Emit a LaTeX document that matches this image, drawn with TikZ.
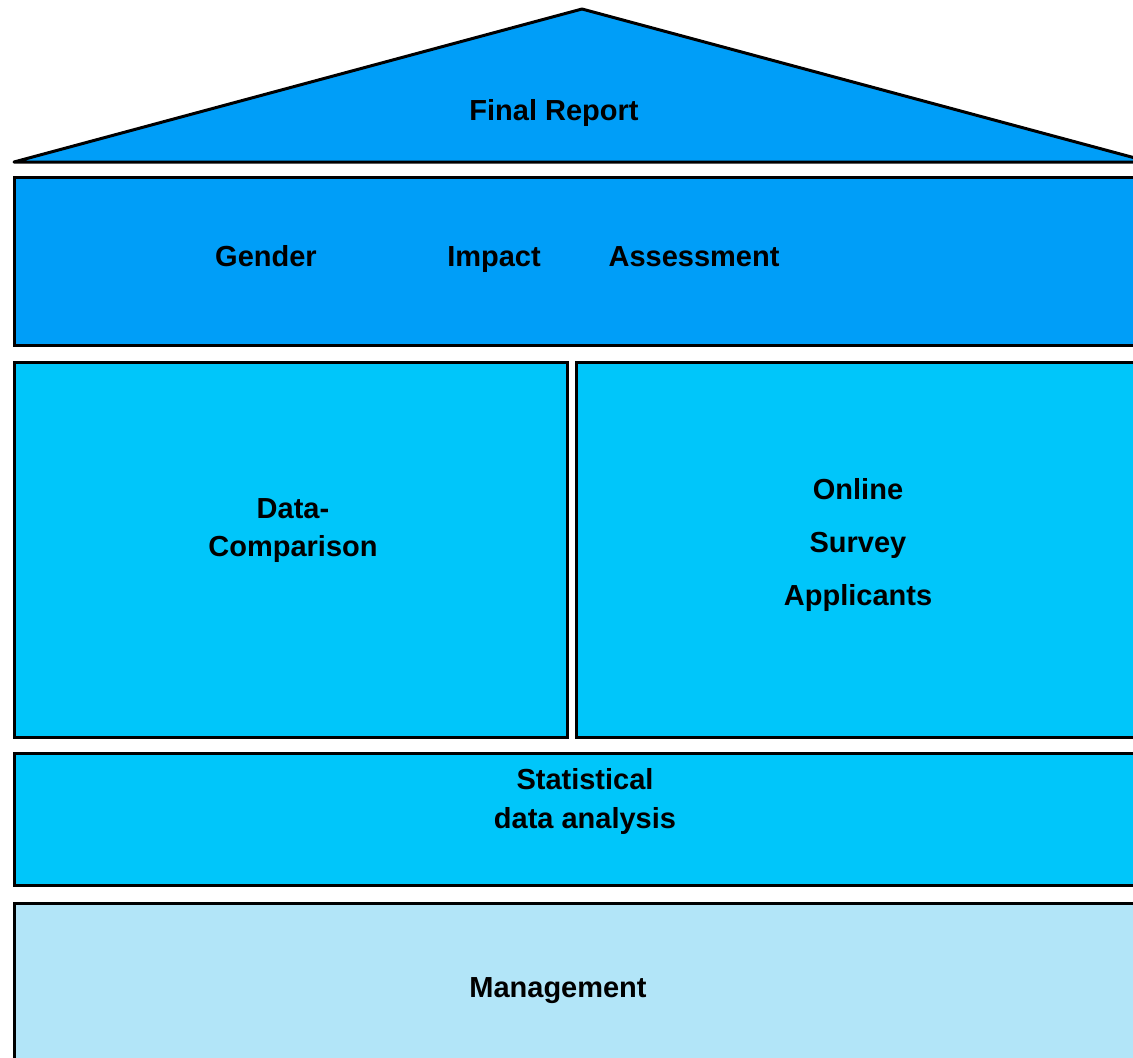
\documentclass[tikz,border=0pt]{standalone}
\usepackage{fontspec}
\setmainfont{Liberation Sans}
\definecolor{roofblue}{RGB}{0,158,248}
\definecolor{midblue}{RGB}{0,198,250}
\definecolor{paleblue}{RGB}{178,229,248}
\tikzset{
  block/.style={draw=black, line width=3pt},
  lbl/.style={font=\bfseries\fontsize{29}{35}\selectfont, inner sep=0pt, anchor=base}
}
\begin{document}
\begin{tikzpicture}[x=1pt,y=-1pt]
\useasboundingbox (0,0) rectangle (1133,1058);
\clip (0,0) rectangle (1133,1058);
% roof
\coordinate (apex) at (582,9);
\coordinate (roofL) at (14,162);
\coordinate (roofR) at (1150,162);
\filldraw[block, fill=roofblue, line join=round] (roofL) -- (apex) -- (roofR) -- cycle;
\node[lbl] (final) at (554,120) {Final Report};
% gender impact assessment
\filldraw[block, fill=roofblue] (14,177) rectangle (1150,345);
\node[lbl] (gender) at (266,266) {Gender};
\node[lbl] (impact) at (494,266) {Impact};
\node[lbl] (assess) at (694,266) {Assessment};
% data comparison
\filldraw[block, fill=midblue] (14,362) rectangle (567,737);
\node[lbl] (data) at (293,518) {Data-};
\node[lbl] (comparison) at (293,556) {Comparison};
% online survey
\filldraw[block, fill=midblue] (576,362) rectangle (1150,737);
\node[lbl] (online) at (858,499) {Online};
\node[lbl] (survey) at (858,552) {Survey};
\node[lbl] (applicants) at (858,605) {Applicants};
% statistical
\filldraw[block, fill=midblue] (14,753) rectangle (1150,885);
\node[lbl] (statistical) at (585,789) {Statistical};
\node[lbl] (analysis) at (585,828) {data analysis};
% management
\filldraw[block, fill=paleblue] (14,903) rectangle (1150,1070);
\node[lbl] (mgmt) at (558,997) {Management};
\end{tikzpicture}
\end{document}
